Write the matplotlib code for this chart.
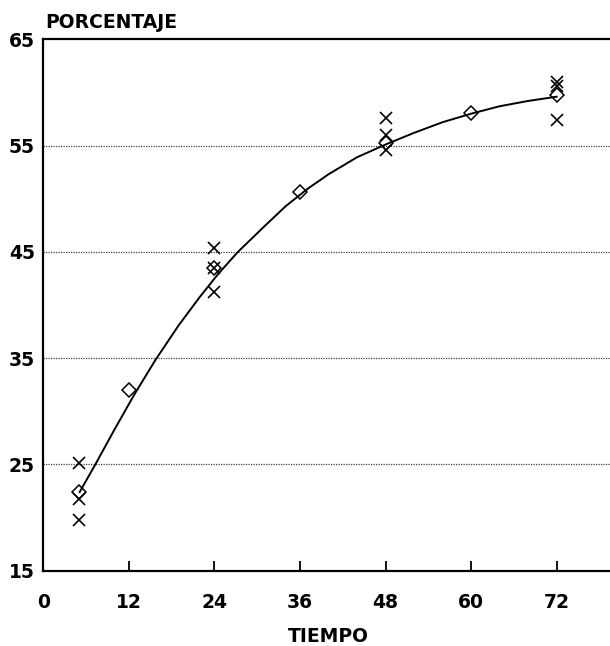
import matplotlib
matplotlib.use('Agg')
from matplotlib import pyplot as plt

# medias (rombos)
t_media = [5, 12, 24, 36, 48, 60, 72]
p_media = [22.4, 32.0, 43.5, 50.6, 55.2, 58.1, 59.8]

# repeticiones (cruces)
t_rep = [5, 5, 5, 24, 24, 24, 48, 48, 48, 72, 72, 72]
p_rep = [25.1, 21.7, 19.8, 45.4, 43.5, 41.2, 57.6, 56.0, 54.6, 61.0, 60.6, 57.4]

# curva ajustada
t_curva = [5.1, 7.3, 10, 12.7, 15.7, 19, 22, 24.5, 27.3, 31, 34, 37, 40, 44,
           48, 52, 56, 60, 64, 68, 72]
p_curva = [22.4, 25.0, 28.3, 31.5, 34.8, 38.1, 40.8, 42.9, 45.0, 47.4, 49.3,
           50.9, 52.3, 53.9, 55.1, 56.2, 57.2, 58.0, 58.7, 59.2, 59.6]

x_ticks = [0, 12, 24, 36, 48, 60, 72]
y_ticks = [15, 25, 35, 45, 55, 65]

plt.rcParams['font.family'] = 'DejaVu Sans'
plt.rcParams['font.weight'] = 'bold'

fig = plt.figure(figsize=(6.1, 6.46), dpi=100)
ax = fig.add_axes([43.3 / 610, 75.3 / 646, 570.4 / 610, 531.4 / 646])

for y in y_ticks[1:-1]:
    ax.axhline(y, color='0.25', lw=0.9, ls=(0, (1, 1)), zorder=1)

ax.plot(t_curva, p_curva, color='black', lw=1.4, zorder=3)
ax.plot(t_rep, p_rep, 'x', color='black', ms=8.5, mew=1.2, zorder=4)
ax.plot(t_media, p_media, 'D', mfc='none', mec='black', ms=7.3, mew=1.1, zorder=5)

ax.set_xlim(0, 80)
ax.set_ylim(15, 65)
ax.set_xticks(x_ticks)
ax.set_yticks(y_ticks)
ax.tick_params(axis='x', direction='in', length=7, width=1.3, pad=16,
               labelsize=13.5)
ax.tick_params(axis='y', length=0, pad=6, labelsize=13.5)
ax.xaxis.get_major_ticks()[0].tick1line.set_visible(False)

for s in ['left', 'bottom', 'top']:
    ax.spines[s].set_linewidth(1.6)
ax.spines['right'].set_visible(False)

fig.text(328 / 610, 1 - 636.5 / 646, 'TIEMPO', ha='center', va='center',
         fontsize=13.5, fontweight='bold')
fig.text(45 / 610, 1 - 23 / 646, 'PORCENTAJE', ha='left', va='center',
         fontsize=13.5, fontweight='bold')

fig.savefig('out.png', dpi=100)
